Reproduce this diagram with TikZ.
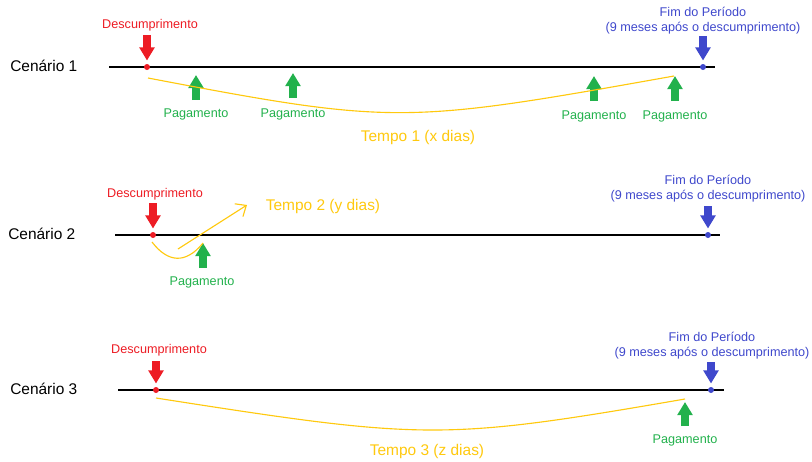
\documentclass[tikz,border=0pt]{standalone}
\usepackage{fontspec}
\setmainfont{Liberation Sans}
\usetikzlibrary{positioning,arrows.meta}
\definecolor{paint red}{RGB}{237,28,36}
\definecolor{paint blue}{RGB}{63,72,204}
\definecolor{paint green}{RGB}{34,177,76}
\definecolor{paint yellow}{RGB}{255,201,14}

\begin{document}
\begin{tikzpicture}[x=0.025cm, y=-0.025cm,
    label text/.style={font=\fontsize{9}{10.7}\selectfont, inner sep=0pt, align=center},
    scenario/.style={font=\fontsize{11}{13}\selectfont, inner sep=0pt, anchor=base west},
    tempo text/.style={font=\fontsize{11}{13}\selectfont, inner sep=0pt, anchor=base, text=paint yellow},
    timeline/.style={line width=1.6pt},
    event dot/.style={circle, fill, inner sep=0pt, minimum size=0.15cm},
    fat arrow/.style={line width=0.18cm, -{Triangle[length=0.33cm, width=0.37cm]}},
    marker arrow/.style={fat arrow, shorten >=0.08cm},
    tempo/.style={paint yellow, line width=0.8pt}
]
    \useasboundingbox (0,0) rectangle (812,462);

    \node[scenario] (cenario 1) at (10,71) {Cenário 1};
    \coordinate (line start 1) at (109,67);
    \coordinate (line end 1) at (715,67);
    \draw[timeline] (line start 1) -- (line end 1);
    \node[event dot, paint red] (descumprimento 1) at (147,67) {};
    \node[event dot, paint blue] (fim 1) at (703,67) {};
    \coordinate (red top 1) at (147,35);
    \coordinate (blue top 1) at (703,36);
    \draw[marker arrow, paint red] (red top 1) -- (descumprimento 1.north);
    \draw[marker arrow, paint blue] (blue top 1) -- (fim 1.north);
    \node[label text, text=paint red, anchor=base] (descumprimento label 1) at (150,28) {Descumprimento};
    \node[label text, text=paint blue, anchor=north] (fim label 1) at (703,6.5)
        {Fim do Período\\(9 meses após o descumprimento)};
    \foreach \x/\y/\base/\name in {196/75/117/a, 293/73/117/b, 594/76/119/c, 675/76/119/d} {
        \coordinate (pay tip 1\name) at (\x,\y);
        \coordinate (pay base 1\name) at (\x,\y+25);
        \draw[fat arrow, paint green] (pay base 1\name) -- (pay tip 1\name);
        \node[label text, text=paint green, anchor=base] (pagamento 1\name) at (\x,\base) {Pagamento};
    }
    \coordinate (tempo start 1) at (148,78);
    \coordinate (tempo end 1) at (674,76);
    \draw[tempo] (tempo start 1) .. controls (395,125) and (405,124) .. (tempo end 1);
    \node[tempo text] (tempo 1) at (418,141) {Tempo 1 (x dias)};

    \node[scenario] (cenario 2) at (8,239) {Cenário 2};
    \coordinate (line start 2) at (115,235);
    \coordinate (line end 2) at (720,235);
    \draw[timeline] (line start 2) -- (line end 2);
    \node[event dot, paint red] (descumprimento 2) at (153,235) {};
    \node[event dot, paint blue] (fim 2) at (708,235) {};
    \coordinate (red top 2) at (153,203);
    \coordinate (blue top 2) at (708,206);
    \draw[marker arrow, paint red] (red top 2) -- (descumprimento 2.north);
    \draw[marker arrow, paint blue] (blue top 2) -- (fim 2.north);
    \node[label text, text=paint red, anchor=base] (descumprimento label 2) at (155,197) {Descumprimento};
    \node[label text, text=paint blue, anchor=north] (fim label 2) at (708,175)
        {Fim do Período\\(9 meses após o descumprimento)};
    \coordinate (pay tip 2) at (203,243);
    \coordinate (pay base 2) at (203,268);
    \draw[fat arrow, paint green] (pay base 2) -- (pay tip 2);
    \node[label text, text=paint green, anchor=base] (pagamento 2) at (202,285) {Pagamento};
    \coordinate (tempo start 2) at (152,242);
    \coordinate (tempo end 2) at (203,243);
    \draw[tempo] (tempo start 2) .. controls (168,263) and (186,264) .. (tempo end 2);
    \coordinate (tempo arrow start 2) at (178,249);
    \coordinate (tempo arrow end 2) at (247,205);
    \draw[tempo, -{Straight Barb[length=0.22cm, width=0.38cm]}] (tempo arrow start 2) -- (tempo arrow end 2);
    \node[tempo text] (tempo 2) at (323,210) {Tempo 2 (y dias)};

    \node[scenario] (cenario 3) at (10,394) {Cenário 3};
    \coordinate (line start 3) at (118,390);
    \coordinate (line end 3) at (724,390);
    \draw[timeline] (line start 3) -- (line end 3);
    \node[event dot, paint red] (descumprimento 3) at (156,390) {};
    \node[event dot, paint blue] (fim 3) at (711,390) {};
    \coordinate (red top 3) at (156,361);
    \coordinate (blue top 3) at (711,362);
    \draw[marker arrow, paint red] (red top 3) -- (descumprimento 3.north);
    \draw[marker arrow, paint blue] (blue top 3) -- (fim 3.north);
    \node[label text, text=paint red, anchor=base] (descumprimento label 3) at (159,353) {Descumprimento};
    \node[label text, text=paint blue, anchor=north] (fim label 3) at (712,331.5)
        {Fim do Período\\(9 meses após o descumprimento)};
    \coordinate (pay tip 3) at (685,402);
    \coordinate (pay base 3) at (685,426);
    \draw[fat arrow, paint green] (pay base 3) -- (pay tip 3);
    \node[label text, text=paint green, anchor=base] (pagamento 3) at (685,443) {Pagamento};
    \coordinate (tempo start 3) at (156,398);
    \coordinate (tempo end 3) at (685,399);
    \draw[tempo] (tempo start 3) .. controls (425,440) and (442,441) .. (tempo end 3);
    \node[tempo text] (tempo 3) at (427,455) {Tempo 3 (z dias)};
\end{tikzpicture}
\end{document}
